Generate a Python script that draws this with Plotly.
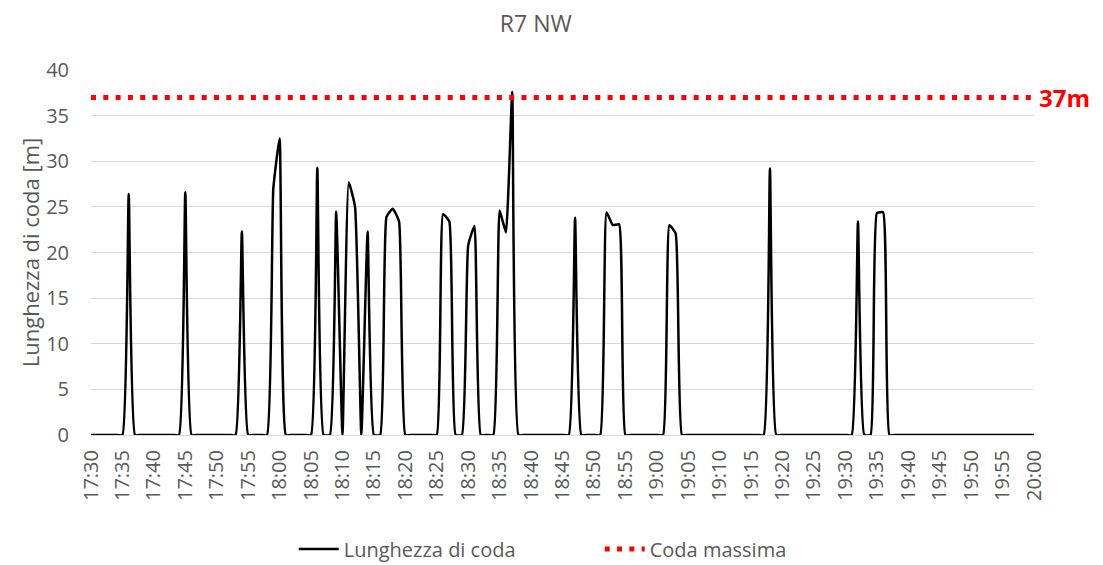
import plotly.graph_objects as go
import pandas as pd

# Minutes after 17:30, one sample per minute (17:30 .. 20:00)
start_time = "2020-01-01 17:30"
queue_length = [
    0, 0, 0, 0, 0, 0, 26.4, 0, 0, 0,          # 17:30-17:39
    0, 0, 0, 0, 0, 26.6, 0, 0, 0, 0,          # 17:40-17:49
    0, 0, 0, 0, 22.3, 0, 0, 0, 0, 27.0,       # 17:50-17:59
    32.5, 0, 0, 0, 0, 0, 29.3, 0, 0, 24.5,    # 18:00-18:09
    0, 27.7, 25.0, 0, 22.3, 0, 0, 23.9, 24.8, 23.4,  # 18:10-18:19
    0, 0, 0, 0, 0, 0, 24.2, 23.4, 0, 0,       # 18:20-18:29
    20.8, 22.9, 0, 0, 0, 24.6, 22.2, 37.6, 0, 0,  # 18:30-18:39
    0, 0, 0, 0, 0, 0, 0, 23.8, 0, 0,          # 18:40-18:49
    0, 0, 24.4, 23.0, 23.1, 0, 0, 0, 0, 0,    # 18:50-18:59
    0, 0, 23.0, 22.1, 0, 0, 0, 0, 0, 0,       # 19:00-19:09
    0, 0, 0, 0, 0, 0, 0, 0, 29.2, 0,          # 19:10-19:19
    0, 0, 0, 0, 0, 0, 0, 0, 0, 0,             # 19:20-19:29
    0, 0, 23.4, 0, 0, 24.3, 24.4, 0, 0, 0,    # 19:30-19:39
    0, 0, 0, 0, 0, 0, 0, 0, 0, 0,             # 19:40-19:49
    0, 0, 0, 0, 0, 0, 0, 0, 0, 0,             # 19:50-19:59
    0,                                        # 20:00
]
max_queue = 37
title_text = "R7 NW"
series_names = ["Lunghezza di coda", "Coda massima"]
y_title = "Lunghezza di coda [m]"
max_label = "37m"

times = pd.date_range(start_time, periods=len(queue_length), freq="1min")

FONT = "Open Sans"
GRAY = "#595959"

fig = go.Figure()
fig.add_trace(go.Scatter(
    x=times, y=queue_length, name=series_names[0], mode="lines",
    line=dict(color="black", width=2.5, shape="spline", smoothing=0.4),
))
fig.add_trace(go.Scatter(
    x=times, y=[max_queue] * len(times), name=series_names[1], mode="lines",
    line=dict(color="#ff0000", width=5, dash="5px,7.3px"),
))

fig.add_annotation(
    xref="paper", yref="y", x=1.003, y=max_queue, xanchor="left", yanchor="middle",
    text="<b>" + max_label + "</b>", showarrow=False,
    font=dict(family=FONT, size=24, color="#ff0000"),
)

fig.update_layout(
    width=1095, height=557,
    margin=dict(l=83, r=69, t=62, b=130, autoexpand=False),
    paper_bgcolor="white", plot_bgcolor="white",
    title=dict(text=title_text, x=0.482, xanchor="center", y=0.972, yanchor="middle",
               font=dict(family=FONT, size=23, color=GRAY)),
    font=dict(family=FONT, color=GRAY, size=19),
    showlegend=True,
    legend=dict(orientation="h", x=0.215, xanchor="left", y=-0.312, yanchor="middle",
                font=dict(family=FONT, size=20, color=GRAY), itemwidth=40,
                entrywidth=251, entrywidthmode="pixels",
                traceorder="normal"),
    xaxis=dict(
        type="date", range=[times[0], times[-1]], automargin=False,
        tickformat="%H:%M", dtick=5 * 60 * 1000, tick0=times[0],
        tickangle=-90, showgrid=False, zeroline=False, showline=False,
        ticks="", ticklabelstandoff=10, tickfont=dict(family=FONT, size=20, color=GRAY),
    ),
    yaxis=dict(
        range=[0, 40], dtick=5, showgrid=True, gridcolor="#d9d9d9", gridwidth=1.3,
        zeroline=True, zerolinecolor="#d9d9d9", zerolinewidth=1.3, automargin=False,
        showline=False, ticks="", ticklabelstandoff=21,
        tickfont=dict(family=FONT, size=20, color=GRAY),
        title=dict(text=y_title, font=dict(family=FONT, size=22, color=GRAY), standoff=0),
    ),
)

fig.write_html("out.html")
